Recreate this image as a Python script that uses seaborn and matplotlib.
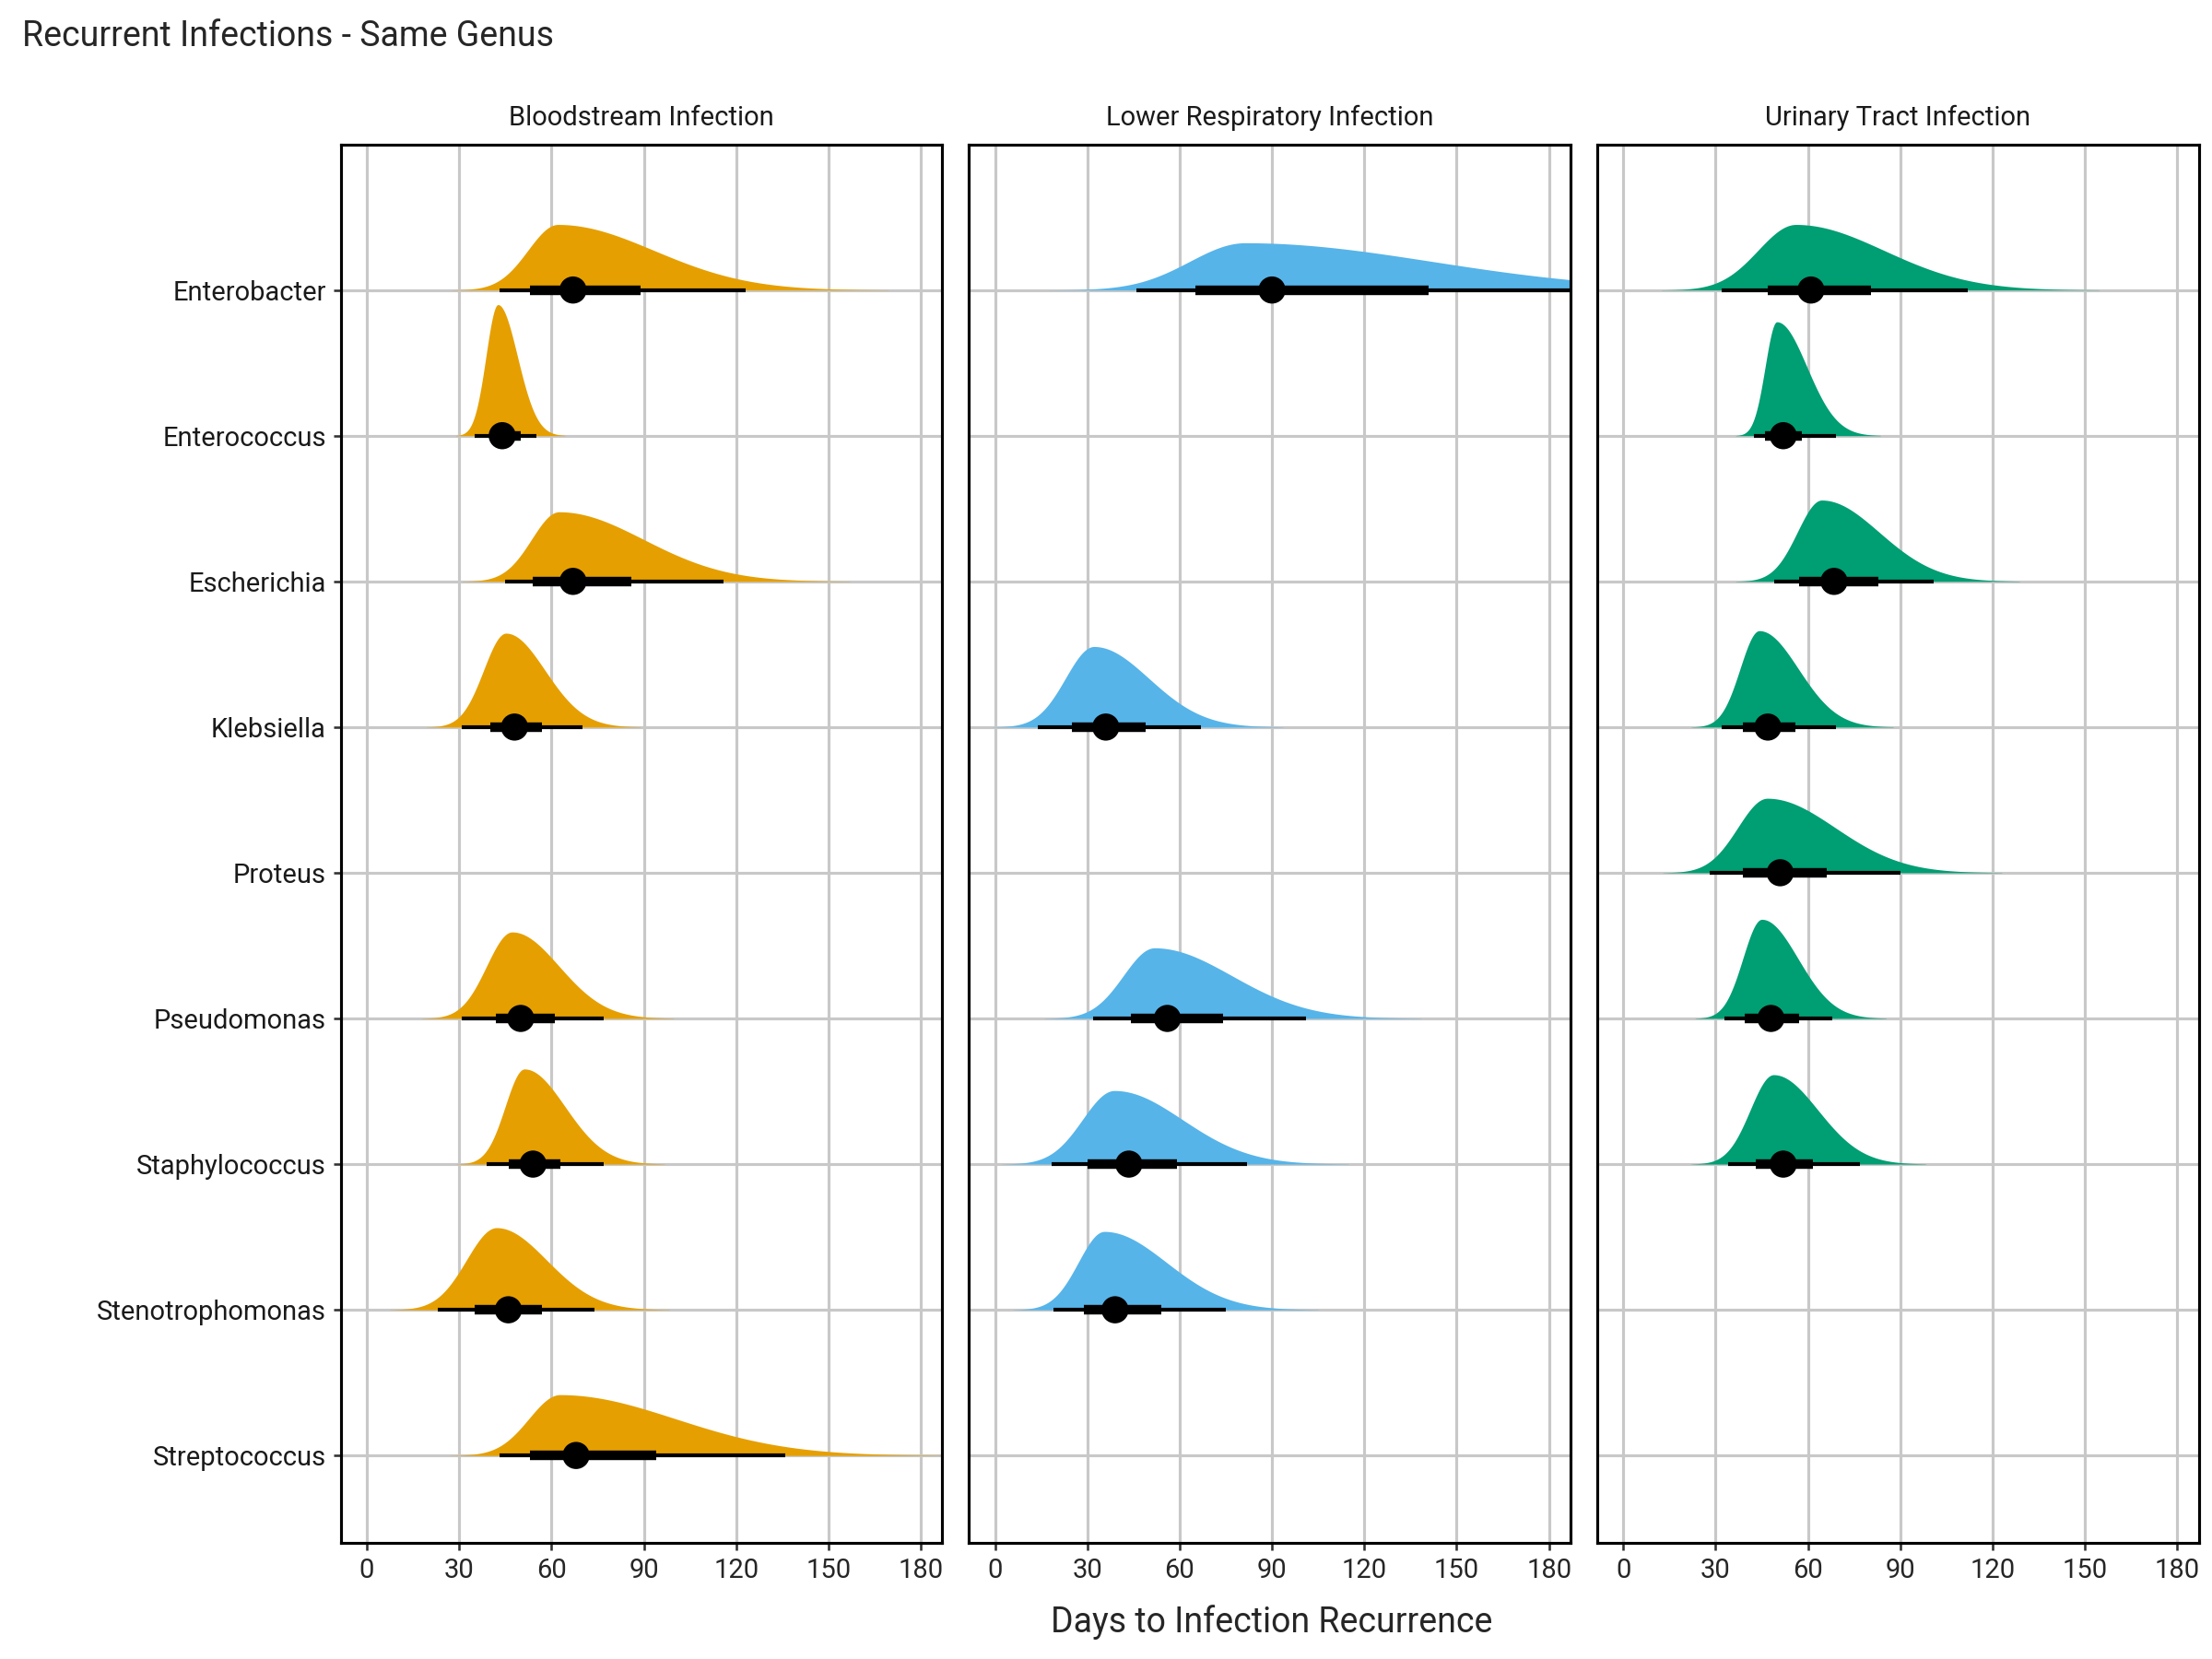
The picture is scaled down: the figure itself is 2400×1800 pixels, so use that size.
import numpy as np
import pandas as pd
import matplotlib
matplotlib.use("Agg")
import matplotlib.pyplot as plt
import seaborn as sns

genera = ["Enterobacter", "Enterococcus", "Escherichia", "Klebsiella", "Proteus",
          "Pseudomonas", "Staphylococcus", "Stenotrophomonas", "Streptococcus"]
panels = ["Bloodstream Infection", "Lower Respiratory Infection", "Urinary Tract Infection"]
colors = ["#E69F00", "#56B4E9", "#009E73"]

# quantiles: (genus, q2.5, q17, median, q83, q97.5)
bsi = [("Enterobacter", 43, 53, 67, 89, 123), ("Enterococcus", 35, 40, 44, 50, 55),
       ("Escherichia", 45, 54, 67, 86, 116), ("Klebsiella", 31, 40, 48, 57, 70),
       ("Pseudomonas", 31, 42, 50, 61, 77), ("Staphylococcus", 39, 46, 54, 63, 77),
       ("Stenotrophomonas", 23, 35, 46, 57, 74), ("Streptococcus", 43, 53, 68, 94, 136)]
lri = [("Enterobacter", 46, 65, 90, 141, 200), ("Klebsiella", 14, 25, 36, 49, 67),
       ("Pseudomonas", 32, 44, 56, 74, 101), ("Staphylococcus", 18.5, 30, 43.5, 59, 82),
       ("Stenotrophomonas", 19, 29, 39, 54, 75)]
uti = [("Enterobacter", 32, 47, 61, 80.5, 112), ("Enterococcus", 42.5, 46, 52, 58, 69),
       ("Escherichia", 49, 57, 68.5, 83, 101), ("Klebsiella", 32, 39, 47, 56, 69),
       ("Proteus", 28, 39, 51, 66, 90), ("Pseudomonas", 33, 39.5, 48, 57, 68),
       ("Staphylococcus", 34, 43, 52, 61.5, 77)]

cols = ["genus", "lo95", "lo66", "median", "hi66", "hi95"]
tables = [pd.DataFrame(t, columns=cols) for t in (bsi, lri, uti)]

sns.set_theme(style="white")
plt.rcParams["font.family"] = ["Roboto", "DejaVu Sans"]

fig = plt.figure(figsize=(16, 12), dpi=150)
lefts = [0.154, 0.438, 0.722]
width, bottom, top = 0.272, 0.070, 0.913
xs = np.linspace(-10, 200, 800)

def shape(r):
    mode = r["median"] - 0.35 * (r["median"] - r["lo66"])
    sl = (mode - r["lo95"]) / 1.96
    sr = (r["hi95"] - mode) / 1.96
    s = np.where(xs < mode, sl, sr)
    d = np.exp(-0.5 * ((xs - mode) / s) ** 2)
    d[(xs < r["lo95"] - 1.6 * sl) | (xs > r["hi95"] + 1.5 * sr)] = 0
    return d / np.sqrt(sl + sr)

peak = max(1 / np.sqrt((r["hi95"] - r["lo95"]) / 1.96) for t in tables for _, r in t.iterrows())

for i, (name, df, c) in enumerate(zip(panels, tables, colors)):
    ax = fig.add_axes([lefts[i], bottom, width, top - bottom])
    ax.set_xlim(-8.5, 187)
    ax.set_ylim(len(genera) - 0.4, -1.0)
    ax.set_xticks(range(0, 181, 30))
    ax.set_yticks(range(len(genera)))
    ax.grid(True, color="#c8c8c8", lw=1.5)
    ax.set_axisbelow(True)
    for _, r in df.iterrows():
        y = genera.index(r["genus"])
        d = shape(r) / peak * 0.9
        ax.fill_between(xs, y, y - d, where=d > 0, color=c, lw=0, zorder=2)
        ax.plot([r["lo95"], r["hi95"]], [y, y], color="black", lw=2, zorder=3, solid_capstyle="butt")
        ax.plot([r["lo66"], r["hi66"]], [y, y], color="black", lw=5, zorder=3, solid_capstyle="butt")
    df = df.assign(y=[genera.index(g) for g in df["genus"]])
    sns.scatterplot(data=df, x="median", y="y", color="black", s=200, ax=ax, zorder=4,
                    edgecolor="none", legend=False)
    ax.set_xlabel("")
    ax.set_ylabel("")
    ax.set_title(name, fontsize=14, color="#1a1a1a", pad=10)
    ax.tick_params(axis="both", labelsize=14, length=4, color="#333333", bottom=True)
    if i == 0:
        ax.set_yticklabels(genera, color="#1a1a1a")
        ax.tick_params(axis="y", left=True)
    else:
        ax.set_yticklabels([])
    for s in ax.spines.values():
        s.set_color("black")
        s.set_linewidth(1.5)

fig.text(0.010, 0.978, "Recurrent Infections - Same Genus", fontsize=18, va="center")
fig.text(0.575, 0.022, "Days to Infection Recurrence", fontsize=18, ha="center", va="center")
fig.savefig("out.png", dpi=150)
